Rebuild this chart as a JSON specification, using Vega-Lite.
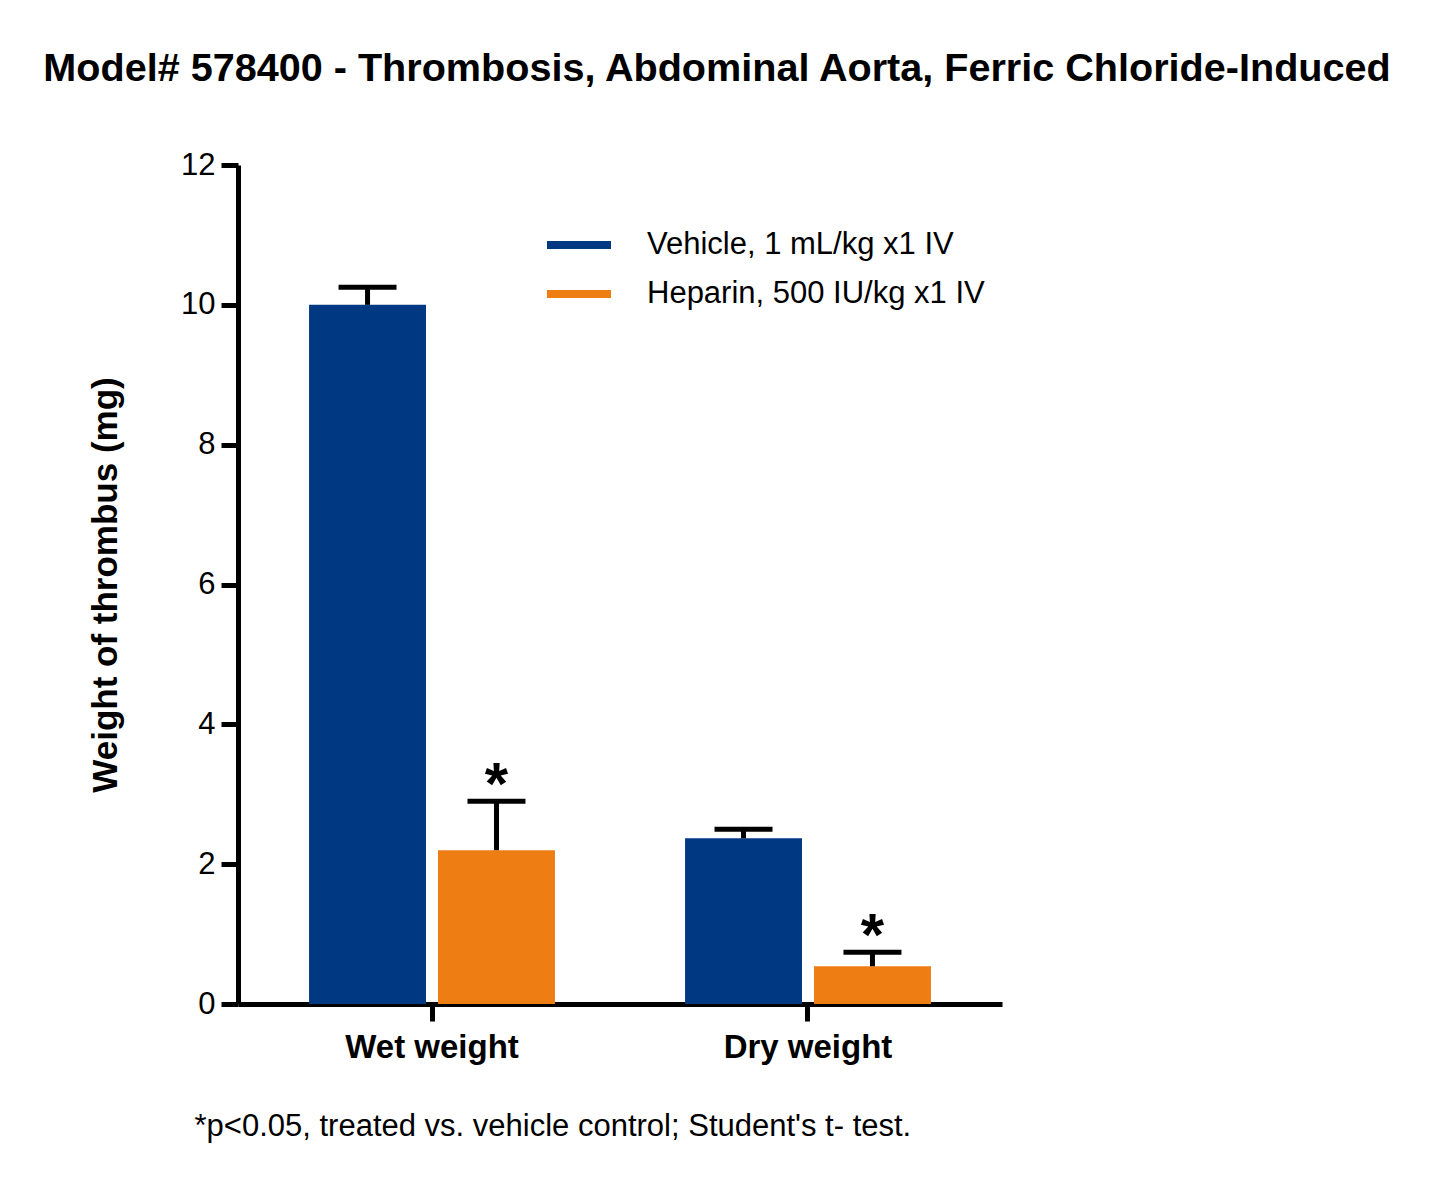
{
  "$schema": "https://vega.github.io/schema/vega-lite/v6.json",
  "width": 764,
  "height": 839,
  "padding": {"left": 41, "top": 49, "right": 20, "bottom": 20},
  "background": "white",
  "title": {
    "text": "Model# 578400 - Thrombosis, Abdominal Aorta, Ferric Chloride-Induced",
    "font": "Liberation Sans",
    "fontSize": 39.6,
    "fontWeight": "bold",
    "color": "black",
    "anchor": "middle",
    "dx": 97,
    "offset": 59
  },
  "config": {
    "view": {"stroke": null},
    "font": "Liberation Sans",
    "axis": {
      "labelFont": "Liberation Sans",
      "titleFont": "Liberation Sans",
      "labelColor": "black",
      "titleColor": "black",
      "domainColor": "black",
      "domainWidth": 5,
      "tickColor": "black",
      "tickWidth": 5,
      "tickSize": 17,
      "grid": false
    },
    "legend": {"labelFont": "Liberation Sans", "titleFont": "Liberation Sans"}
  },
  "data": {
    "values": [
      {"measure": "Wet weight", "group": "Vehicle, 1 mL/kg x1 IV", "mean": 10.0, "hi": 10.25, "sig": ""},
      {"measure": "Wet weight", "group": "Heparin, 500 IU/kg x1 IV", "mean": 2.2, "hi": 2.9, "sig": "*"},
      {"measure": "Dry weight", "group": "Vehicle, 1 mL/kg x1 IV", "mean": 2.37, "hi": 2.5, "sig": ""},
      {"measure": "Dry weight", "group": "Heparin, 500 IU/kg x1 IV", "mean": 0.54, "hi": 0.74, "sig": "*"}
    ]
  },
  "encoding": {
    "x": {
      "field": "measure",
      "type": "nominal",
      "sort": ["Wet weight", "Dry weight"],
      "scale": {"paddingInner": 0.346, "paddingOuter": 0.189},
      "axis": {
        "labelAngle": 0,
        "labelFontSize": 33,
        "labelFontWeight": "bold",
        "labelPadding": 10,
        "title": "*p<0.05, treated vs. vehicle control; Student's t- test.",
        "titleFontSize": 31,
        "titleFontWeight": "normal",
        "titleAnchor": "start",
        "titleAlign": "left",
        "titleBaseline": "middle",
        "titleX": -44,
        "titleY": 122
      }
    },
    "xOffset": {
      "field": "group",
      "type": "nominal",
      "sort": ["Vehicle, 1 mL/kg x1 IV", "Heparin, 500 IU/kg x1 IV"],
      "scale": {"paddingInner": 0.093, "paddingOuter": 0}
    }
  },
  "layer": [
    {
      "mark": {"type": "bar"},
      "encoding": {
        "y": {
          "field": "mean",
          "type": "quantitative",
          "scale": {"domain": [0, 12], "nice": false},
          "axis": {
            "values": [0, 2, 4, 6, 8, 10, 12],
            "format": "d",
            "labelFontSize": 31,
            "labelPadding": 6,
            "title": "Weight of thrombus (mg)",
            "titleFontSize": 35,
            "titleFontWeight": "bold",
            "titlePadding": 57
          }
        },
        "color": {
          "field": "group",
          "type": "nominal",
          "sort": ["Vehicle, 1 mL/kg x1 IV", "Heparin, 500 IU/kg x1 IV"],
          "scale": {
            "domain": ["Vehicle, 1 mL/kg x1 IV", "Heparin, 500 IU/kg x1 IV"],
            "range": ["#003882", "#EE7D14"]
          },
          "legend": {
            "title": null,
            "orient": "none",
            "legendX": 309,
            "legendY": 48,
            "symbolType": "M-1,-0.125H1V0.125H-1Z",
            "symbolSize": 4096,
            "symbolStrokeWidth": 0,
            "labelFontSize": 31,
            "labelColor": "black",
            "labelLimit": 0,
            "labelOffset": 36,
            "rowPadding": 2
          }
        }
      }
    },
    {
      "mark": {"type": "rule", "color": "black", "strokeWidth": 5},
      "encoding": {
        "y": {"field": "mean", "type": "quantitative"},
        "y2": {"field": "hi"}
      }
    },
    {
      "mark": {"type": "tick", "color": "black", "opacity": 1, "thickness": 5, "size": 58},
      "encoding": {
        "y": {"field": "hi", "type": "quantitative"}
      }
    },
    {
      "mark": {"type": "text", "fontSize": 60, "fontWeight": "bold", "color": "black", "baseline": "middle", "dy": -15},
      "encoding": {
        "y": {"field": "hi", "type": "quantitative"},
        "text": {"field": "sig"}
      }
    }
  ]
}
